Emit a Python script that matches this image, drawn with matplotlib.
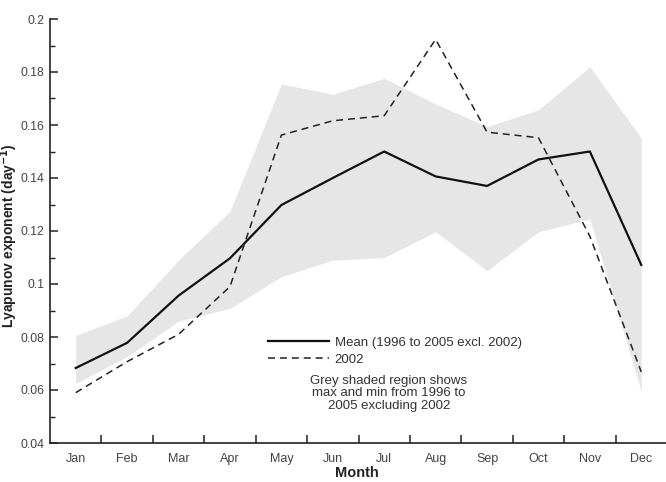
import matplotlib
matplotlib.use("Agg")
import matplotlib.pyplot as plt
from matplotlib.ticker import MultipleLocator, FixedLocator, NullFormatter

plt.rcParams['font.family'] = ['Liberation Sans', 'DejaVu Sans']

months = ["Jan", "Feb", "Mar", "Apr", "May", "Jun", "Jul", "Aug", "Sep", "Oct", "Nov", "Dec"]
mean_vals = [0.0683, 0.0778, 0.0956, 0.1097, 0.1298, 0.1400, 0.1500, 0.1406, 0.1370, 0.1470, 0.1500, 0.1072]
y2002 = [0.0590, 0.0707, 0.0810, 0.0990, 0.1562, 0.1616, 0.1635, 0.1923, 0.1573, 0.1552, 0.1180, 0.0668]
upper = [0.0806, 0.0880, 0.1090, 0.1275, 0.1755, 0.1716, 0.1776, 0.1680, 0.1594, 0.1657, 0.1820, 0.1550]
lower = [0.0625, 0.0726, 0.0860, 0.0908, 0.1028, 0.1090, 0.1100, 0.1197, 0.1050, 0.1197, 0.1245, 0.0594]
ytick_vals = [0.04, 0.06, 0.08, 0.1, 0.12, 0.14, 0.16, 0.18, 0.2]
ytick_labels = ["0.04", "0.06", "0.08", "0.1", "0.12", "0.14", "0.16", "0.18", "0.2"]

x = list(range(1, 13))

fig = plt.figure(figsize=(6.66, 4.82), dpi=100)
ax = fig.add_axes([50/666, 1-443/482, 617/666, (443-19)/482])

ax.fill_between(x, lower, upper, color='#e6e6e6', linewidth=0, zorder=1)
l1, = ax.plot(x, mean_vals, color='#111111', linewidth=1.6, zorder=3,
              label="Mean (1996 to 2005 excl. 2002)")
l2, = ax.plot(x, y2002, color='#222222', linewidth=1.1, linestyle=(0, (4.6, 3.2)), zorder=3,
              label="2002")

ax.set_xlim(0.5, 12.5)
ax.set_ylim(0.04, 0.2)

ax.spines['top'].set_visible(False)
ax.spines['right'].set_visible(False)
for s in ('left', 'bottom'):
    ax.spines[s].set_linewidth(1.2)
    ax.spines[s].set_color('#222222')

ax.set_yticks(ytick_vals)
ax.set_yticklabels(ytick_labels)
ax.yaxis.set_minor_locator(MultipleLocator(0.01))
ax.tick_params(axis='y', which='major', direction='in', length=6, width=1.1, labelsize=8.7,
               colors='#222222', labelcolor='#444444', pad=4)
ax.tick_params(axis='y', which='minor', direction='in', length=3.3, width=1.0, colors='#222222')

ax.xaxis.set_major_locator(FixedLocator([m + 0.5 for m in range(1, 12)]))
ax.xaxis.set_major_formatter(NullFormatter())
ax.xaxis.set_minor_locator(FixedLocator(x))
ax.set_xticklabels(months, minor=True)
ax.tick_params(axis='x', which='major', direction='in', length=6, width=1.1, colors='#222222')
ax.tick_params(axis='x', which='minor', length=0, labelsize=9, labelcolor='#444444', pad=7)

ax.set_xlabel("Month", fontsize=10.5, fontweight='bold', color='#222222', va='center')
ax.xaxis.set_label_coords(0.497, -0.0708)
ax.set_ylabel("Lyapunov exponent (day$^{\\mathbf{-1}}$)", fontsize=10, fontweight='bold',
              color='#222222', va='center')
ax.yaxis.set_label_coords(-0.066, 0.49)

leg = fig.legend(handles=[l1, l2], loc='center left',
                 bbox_to_anchor=(268/666, 1-351/482), frameon=False, fontsize=9.5,
                 handlelength=4.6, handletextpad=0.45, labelspacing=0.36, borderpad=0,
                 borderaxespad=0)
for t in leg.get_texts():
    t.set_color('#333333')

fig.text(389/666, 1-393.5/482,
         "Grey shaded region shows\nmax and min from 1996 to\n2005 excluding 2002",
         ha='center', va='center', fontsize=9.5, color='#333333', linespacing=1.1)

fig.savefig("out.png", dpi=100)
